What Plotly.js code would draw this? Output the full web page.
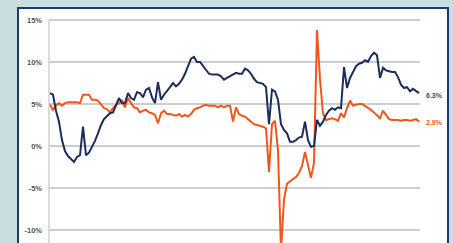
<!DOCTYPE html>
<html>
<head>
<meta charset="utf-8">
<script src="https://cdn.plot.ly/plotly-3.0.1.min.js"></script>
<style>
  html, body { margin: 0; padding: 0; width: 453px; height: 243px; overflow: hidden; background: #c9dfdf; }
  #panel { position: absolute; left: 17px; top: 7px; width: 428px; height: 260px; background: #ffffff; border: 2px solid #1b3a73; }
  #chart { position: absolute; left: 0; top: 0; width: 453px; height: 243px; }
</style>
</head>
<body>
<div id="panel"></div>
<div id="chart"></div>
<script>
// Period index (unlabelled time axis)
const periods = Array.from({length: 124}, (_, i) => i);

// Navy series (%)
const navySeries = [
  6.3, 6.1, 4.2, 2.9, 0.7, -0.6, -1.2, -1.5, -1.9, -1.3,
  -1.1, 2.3, -1.1, -0.8, -0.1, 0.6, 1.5, 2.5, 3.2, 3.5,
  3.9, 4.0, 4.9, 5.7, 5.1, 5.1, 6.3, 5.7, 5.5, 6.4,
  6.3, 5.8, 6.7, 6.9, 5.8, 5.1, 7.6, 5.5, 6.1, 6.5,
  7.0, 7.5, 7.1, 7.4, 7.9, 8.6, 9.4, 10.4, 10.6, 10.0,
  10.0, 9.5, 9.0, 8.6, 8.5, 8.5, 8.5, 8.3, 7.9, 8.1,
  8.3, 8.6, 8.7, 8.6, 8.6, 9.2, 9.0, 8.6, 8.0, 7.6,
  7.5, 7.4, 7.0, 2.6, 6.7, 6.5, 5.5, 2.6, 1.9, 1.5,
  0.5, 0.5, 0.7, 1.0, 1.1, 2.9, 0.7, -0.1, 0.0, 3.1,
  2.4, 2.9, 3.7, 4.2, 4.5, 4.3, 4.6, 4.5, 9.4, 6.9,
  8.1, 8.8, 9.5, 9.8, 9.9, 10.2, 10.0, 10.7, 11.1, 10.8,
  8.1, 9.3, 9.0, 8.9, 8.8, 8.8, 8.2, 7.3, 6.9, 7.0,
  6.5, 6.8, 6.5, 6.3
];

// Orange series (%)
const orangeSeries = [
  4.9, 4.3, 4.8, 5.1, 4.8, 5.1, 5.2, 5.2, 5.2, 5.2,
  5.1, 6.1, 6.1, 6.1, 5.5, 5.5, 5.4, 5.0, 4.5, 4.4,
  4.0, 4.5, 4.9, 5.1, 5.4, 4.6, 5.7, 5.1, 4.6, 4.5,
  4.0, 4.2, 4.3, 4.0, 3.9, 3.7, 2.7, 3.9, 4.2, 3.8,
  3.8, 3.7, 3.6, 3.8, 3.5, 3.7, 3.5, 3.8, 4.3, 4.5,
  4.6, 4.8, 4.9, 4.8, 4.8, 4.8, 4.6, 4.8, 4.6, 4.8,
  4.8, 2.9, 4.6, 3.8, 3.6, 3.5, 3.2, 2.9, 2.6, 2.5,
  2.4, 2.3, 2.1, -3.1, 2.6, 3.0, -0.5, -12.5, -6.4, -4.5,
  -4.2, -3.9, -3.7, -3.2, -2.4, -0.7, -2.3, -3.8, -2.0, 13.8,
  7.9, 3.9, 3.1, 3.2, 3.3, 3.2, 3.0, 3.9, 3.4, 4.5,
  5.4, 4.8, 4.9, 5.0, 5.0, 4.8, 4.5, 4.3, 4.0, 3.7,
  3.3, 4.2, 3.7, 3.2, 3.1, 3.1, 3.1, 3.0, 3.1, 3.1,
  3.0, 3.1, 3.2, 2.9
];

const yTickVals = [-10, -5, 0, 5, 10, 15];
const yTickText = ['-10%', '-5%', '0%', '5%', '10%', '15%'];

const navy = '#1c2d5c';
const orange = '#f0561c';

const lastIdx = periods.length - 1;

const traces = [
  { x: periods, y: orangeSeries, type: 'scatter', mode: 'lines',
    line: { color: orange, width: 2 }, hoverinfo: 'skip' },
  { x: periods, y: navySeries, type: 'scatter', mode: 'lines',
    line: { color: navy, width: 2 }, hoverinfo: 'skip' }
];

const layout = {
  width: 453, height: 243,
  margin: { l: 49, r: 33, t: 10, b: 0, pad: 0 },
  paper_bgcolor: 'rgba(0,0,0,0)',
  plot_bgcolor: 'rgba(0,0,0,0)',
  showlegend: false,
  xaxis: { range: [-0.33, lastIdx + 0.33], showgrid: false, zeroline: false,
           showticklabels: false, showline: false, ticks: '' },
  yaxis: { range: [-11.55, 16.19], tickvals: yTickVals, ticktext: yTickText,
           showgrid: true, gridcolor: '#cdcdcd', gridwidth: 1.5, zeroline: false,
           showline: false, ticks: '', ticklabelstandoff: 6,
           tickfont: { family: 'Liberation Sans, Arial, sans-serif', size: 7.5, color: '#555555', weight: 'bold' } },
  shapes: [
    { type: 'line', xref: 'paper', yref: 'y', x0: 0, x1: 0, y0: -11.55, y1: 15,
      line: { color: '#c4c4c4', width: 1.2 } }
  ],
  annotations: [
    { x: lastIdx, y: navySeries[lastIdx], xref: 'x', yref: 'y', text: navySeries[lastIdx].toFixed(1) + '%',
      showarrow: false, xanchor: 'left', yanchor: 'middle', xshift: 5, yshift: -2,
      font: { family: 'Liberation Sans, Arial, sans-serif', size: 7, color: '#3a4a7a', weight: 'bold' } },
    { x: lastIdx, y: orangeSeries[lastIdx], xref: 'x', yref: 'y', text: orangeSeries[lastIdx].toFixed(1) + '%',
      showarrow: false, xanchor: 'left', yanchor: 'middle', xshift: 5, yshift: -1,
      font: { family: 'Liberation Sans, Arial, sans-serif', size: 7, color: orange, weight: 'bold' } }
  ]
};

Plotly.newPlot('chart', traces, layout, { displayModeBar: false, staticPlot: true });
</script>
</body>
</html>
